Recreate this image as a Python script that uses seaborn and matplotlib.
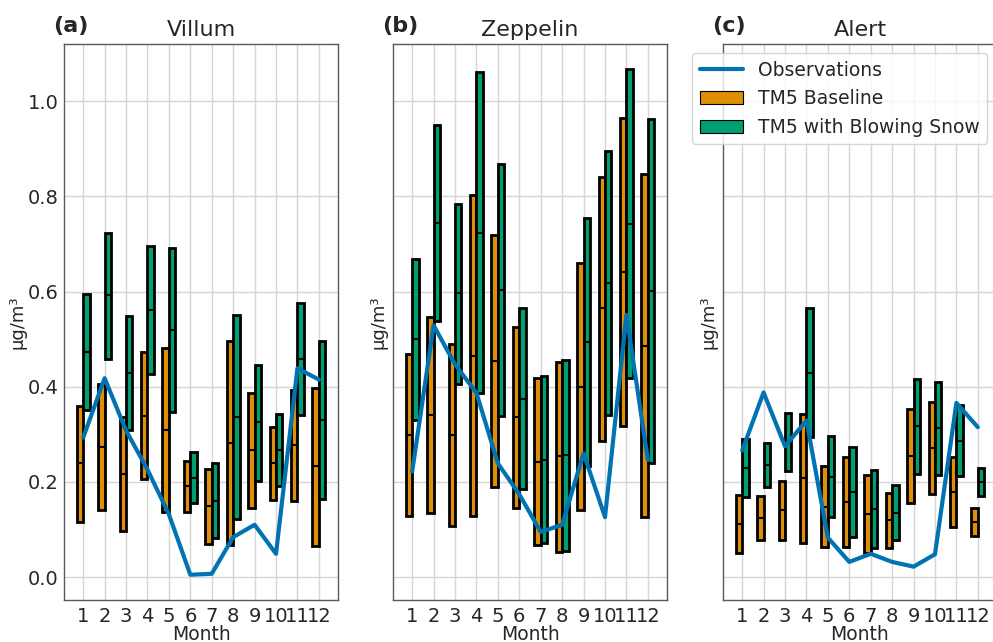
import numpy as np
import pandas as pd
import matplotlib
matplotlib.use("Agg")
import matplotlib.pyplot as plt
import seaborn as sns
from matplotlib.patches import Patch
from matplotlib.lines import Line2D

months = list(range(1, 13))

# Villum
villum_obs = [0.293, 0.418, 0.308, 0.226, 0.132, 0.005, 0.007, 0.084, 0.110, 0.049, 0.439, 0.415]
villum_base_low = [0.115, 0.141, 0.096, 0.206, 0.136, 0.137, 0.069, 0.067, 0.146, 0.161, 0.159, 0.066]
villum_base_med = [0.239, 0.274, 0.217, 0.339, 0.309, 0.192, 0.149, 0.282, 0.268, 0.239, 0.277, 0.233]
villum_base_high = [0.360, 0.405, 0.337, 0.473, 0.481, 0.245, 0.228, 0.496, 0.387, 0.315, 0.394, 0.398]
villum_bs_low = [0.351, 0.459, 0.309, 0.427, 0.346, 0.155, 0.082, 0.122, 0.203, 0.191, 0.340, 0.165]
villum_bs_med = [0.473, 0.592, 0.428, 0.562, 0.519, 0.209, 0.160, 0.337, 0.325, 0.267, 0.459, 0.331]
villum_bs_high = [0.595, 0.723, 0.548, 0.695, 0.691, 0.263, 0.239, 0.550, 0.446, 0.343, 0.575, 0.496]

# Zeppelin
zep_obs = [0.222, 0.529, 0.447, 0.387, 0.239, 0.174, 0.095, 0.110, 0.260, 0.126, 0.551, 0.246]
zep_base_low = [0.129, 0.135, 0.108, 0.129, 0.190, 0.146, 0.067, 0.052, 0.140, 0.286, 0.318, 0.126]
zep_base_med = [0.299, 0.341, 0.298, 0.465, 0.454, 0.337, 0.242, 0.254, 0.400, 0.565, 0.641, 0.485]
zep_base_high = [0.468, 0.546, 0.490, 0.802, 0.719, 0.526, 0.418, 0.453, 0.660, 0.841, 0.965, 0.847]
zep_bs_low = [0.331, 0.539, 0.405, 0.387, 0.339, 0.185, 0.071, 0.055, 0.233, 0.340, 0.418, 0.239]
zep_bs_med = [0.500, 0.745, 0.596, 0.724, 0.604, 0.375, 0.247, 0.256, 0.494, 0.617, 0.741, 0.601]
zep_bs_high = [0.669, 0.950, 0.785, 1.061, 0.868, 0.565, 0.423, 0.457, 0.755, 0.896, 1.067, 0.962]

# Alert
alert_obs = [0.266, 0.388, 0.275, 0.329, 0.083, 0.032, 0.049, 0.032, 0.022, 0.048, 0.366, 0.315]
alert_base_low = [0.050, 0.077, 0.078, 0.072, 0.063, 0.064, 0.050, 0.061, 0.156, 0.174, 0.106, 0.087]
alert_base_med = [0.111, 0.124, 0.140, 0.208, 0.148, 0.158, 0.133, 0.120, 0.255, 0.271, 0.178, 0.115]
alert_base_high = [0.172, 0.170, 0.203, 0.343, 0.233, 0.252, 0.214, 0.177, 0.354, 0.369, 0.252, 0.145]
alert_bs_low = [0.169, 0.189, 0.223, 0.294, 0.126, 0.085, 0.061, 0.077, 0.217, 0.215, 0.213, 0.170]
alert_bs_med = [0.229, 0.235, 0.284, 0.429, 0.210, 0.178, 0.143, 0.135, 0.317, 0.313, 0.287, 0.199]
alert_bs_high = [0.291, 0.282, 0.345, 0.565, 0.297, 0.273, 0.225, 0.194, 0.417, 0.411, 0.361, 0.229]

stations = ["Villum", "Zeppelin", "Alert"]
panel_tags = ["(a)", "(b)", "(c)"]

sns.set_theme(style="whitegrid")
plt.rcParams["font.family"] = ["DejaVu Sans"]
plt.rcParams["axes.edgecolor"] = "0.35"
plt.rcParams["grid.color"] = "0.84"

pal = sns.color_palette("colorblind")
c_obs, c_base, c_bs = pal[0], pal[1], pal[2]

data = {
    "Villum": (villum_obs, villum_base_low, villum_base_med, villum_base_high,
               villum_bs_low, villum_bs_med, villum_bs_high),
    "Zeppelin": (zep_obs, zep_base_low, zep_base_med, zep_base_high,
                 zep_bs_low, zep_bs_med, zep_bs_high),
    "Alert": (alert_obs, alert_base_low, alert_base_med, alert_base_high,
              alert_bs_low, alert_bs_med, alert_bs_high),
}

fig = plt.figure(figsize=(9.93, 6.42), dpi=100)
lefts = [0.0648, 0.3961, 0.7284]
w, b, h = 0.2753, 0.0654, 0.866
axes = []
for i, left in enumerate(lefts):
    ax = fig.add_axes([left, b, w, h], sharey=axes[0] if axes else None)
    axes.append(ax)

x = np.array(months, dtype=float)
bw = 0.3
for ax, name, tag in zip(axes, stations, panel_tags):
    obs, bl, bm, bh, sl, sm, sh = (np.array(v) for v in data[name])
    ax.bar(x - bw / 2, bh - bl, bottom=bl, width=bw, color=c_base,
           edgecolor="black", linewidth=2, zorder=3)
    ax.hlines(bm, x - bw, x, color="black", linewidth=1.5, zorder=4)
    ax.bar(x + bw / 2, sh - sl, bottom=sl, width=bw, color=c_bs,
           edgecolor="black", linewidth=2, zorder=3)
    ax.hlines(sm, x, x + bw, color="black", linewidth=1.5, zorder=4)
    df = pd.DataFrame({"Month": months, "obs": obs})
    sns.lineplot(data=df, x="Month", y="obs", ax=ax, color=c_obs,
                 linewidth=3, zorder=5)
    ax.set_xticks(months)
    ax.set_xticklabels([str(m) for m in months])
    ax.tick_params(axis="both", labelsize=14, length=3, color="0.35", pad=1)
    ax.tick_params(axis="x", length=0, pad=5)
    ax.set_xlabel("Month", fontsize=13.5, labelpad=-1)
    ax.set_ylabel("μg/m³", fontsize=13, labelpad=1 if ax is axes[0] else 4)
    ax.set_title(name, fontsize=16, pad=6)
    ax.text(-0.04, 1.015, tag, transform=ax.transAxes, fontsize=16,
            fontweight="bold", ha="left", va="bottom")
    ax.grid(True, linewidth=1)
    for sp in ax.spines.values():
        sp.set_linewidth(1.0)

for ax in axes[1:]:
    plt.setp(ax.get_yticklabels(), visible=False)

axes[0].set_yticks([0.0, 0.2, 0.4, 0.6, 0.8, 1.0])

handles = [
    Line2D([0], [0], color=c_obs, linewidth=3),
    Patch(facecolor=c_base, edgecolor="black", linewidth=0.8),
    Patch(facecolor=c_bs, edgecolor="black", linewidth=0.8),
]
axes[2].legend(handles, ["Observations", "TM5 Baseline", "TM5 with Blowing Snow"],
               loc="upper right", fontsize=13.5, frameon=True, framealpha=0.8,
               handlelength=2.3)

fig.savefig("out.png", dpi=100)
